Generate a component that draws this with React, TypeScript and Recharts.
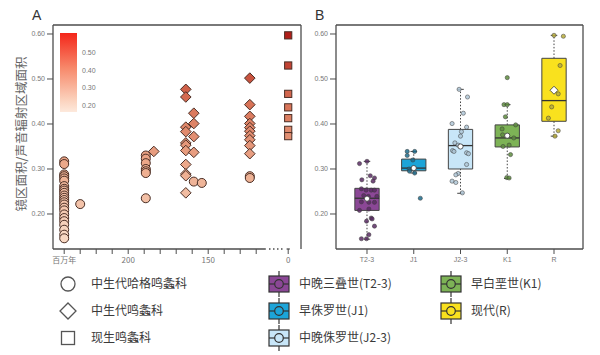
import { ScatterChart, Scatter, XAxis, YAxis, ReferenceLine, ReferenceArea } from 'recharts';

// shared y scale (ratio)
const Y_TICKS = [0.2, 0.3, 0.4, 0.5, 0.6];
const Y_DOMAIN: [number, number] = [0.1222, 0.62];

// panel A: age (Ma) vs ratio; recent taxa sit at 0 Ma behind the axis break
const AGE_TICKS = [240, 230, 220, 210, 200, 190, 180, 170, 160, 150, 140, 130, 120, 0];
const AGE_LABELS: Record<number, string> = { 240: '百万年', 200: '200', 150: '150', 0: '0' };
const BREAK_POS = 100; // where "0" is drawn on the broken axis

const CIRCLES: [number, number][] = [
  [240, 0.317], [240, 0.311], [240, 0.288], [240, 0.284], [240, 0.279], [240, 0.274],
  [240, 0.262], [240, 0.256], [240, 0.252], [240, 0.247], [240, 0.241], [240, 0.236],
  [240, 0.231], [240, 0.226], [240, 0.221], [240, 0.214], [240, 0.208], [240, 0.199],
  [240, 0.191], [240, 0.184], [240, 0.176], [240, 0.165], [240, 0.154], [240, 0.146],
  [230, 0.222],
  [189, 0.330], [189, 0.323], [189, 0.313], [189, 0.300], [189, 0.295], [189, 0.291], [189, 0.235],
  [159, 0.272], [154, 0.269],
  [124, 0.284], [124, 0.280],
];
const DIAMONDS: [number, number][] = [
  [184, 0.339],
  [164, 0.477], [164, 0.460], [164, 0.393], [164, 0.383], [164, 0.358], [164, 0.353],
  [164, 0.341], [164, 0.310], [164, 0.289], [164, 0.285], [164, 0.247],
  [159, 0.424], [159, 0.401], [159, 0.372], [159, 0.337],
  [124, 0.502], [124, 0.443], [124, 0.417], [124, 0.401], [124, 0.392], [124, 0.384],
  [124, 0.374], [124, 0.365], [124, 0.352], [124, 0.334],
];
const SQUARES: [number, number][] = [
  [0, 0.597], [0, 0.530], [0, 0.467], [0, 0.437], [0, 0.413], [0, 0.387], [0, 0.373],
];
const HEAT_TICKS = ['0.50', '0.40', '0.30', '0.20'];

// panel B: groups
const GROUPS = ['T2-3', 'J1', 'J2-3', 'K1', 'R'];
const GROUP_NAMES = ['中晚三叠世(T2-3)', '早侏罗世(J1)', '中晚侏罗世(J2-3)', '早白垩世(K1)', '现代(R)'];
const BOX_COLORS = ['#8b4796', '#1ca4d8', '#c8e6f8', '#7db356', '#f9e11e'];
const DOT_COLORS = ['#5a2b64', '#1f6c8c', '#aec6d6', '#5e8c3e', '#b7ab3a'];
const LOW = [0.144, 0.291, 0.246, 0.279, 0.373];
const Q1 = [0.208, 0.296, 0.300, 0.349, 0.406];
const MEDIAN = [0.235, 0.302, 0.352, 0.369, 0.452];
const Q3 = [0.257, 0.322, 0.388, 0.398, 0.546];
const HIGH = [0.317, 0.339, 0.477, 0.443, 0.597];
const MEAN = [0.234, 0.302, 0.350, 0.374, 0.475];

// [jitter, ratio]
const T23_DOTS: [number, number][] = [
  [-0.16, 0.312], [0.0, 0.317], [-0.11, 0.276], [0.07, 0.285], [0.16, 0.28], [0.13, 0.273],
  [-0.12, 0.256], [-0.02, 0.253], [0.09, 0.253], [0.16, 0.253], [-0.07, 0.241], [0.03, 0.239],
  [0.21, 0.239], [-0.12, 0.227], [0.04, 0.226], [0.16, 0.226], [-0.16, 0.208], [0.04, 0.211],
  [0.09, 0.191], [-0.01, 0.184], [0.11, 0.189], [0.16, 0.173], [0.04, 0.154], [-0.12, 0.145], [-0.01, 0.145],
];
const J1_DOTS: [number, number][] = [
  [-0.14, 0.339], [0.02, 0.339], [-0.14, 0.33], [-0.02, 0.32], [-0.1, 0.3], [-0.09, 0.295], [0.02, 0.291], [0.14, 0.235],
];
const J23_DOTS: [number, number][] = [
  [-0.03, 0.477], [0.15, 0.46], [0.06, 0.424], [-0.18, 0.401], [0.13, 0.393], [0.02, 0.383],
  [0.0, 0.373], [-0.12, 0.358], [-0.05, 0.353], [-0.17, 0.341], [-0.14, 0.339], [0.13, 0.336],
  [0.17, 0.334], [0.13, 0.31], [-0.05, 0.29], [-0.1, 0.287], [-0.18, 0.273], [-0.1, 0.27], [0.04, 0.247],
];
const K1_DOTS: [number, number][] = [
  [0.0, 0.503], [-0.07, 0.443], [0.0, 0.443], [-0.04, 0.416], [0.18, 0.398], [-0.11, 0.389],
  [-0.1, 0.376], [0.14, 0.369], [0.04, 0.353], [-0.09, 0.35], [0.07, 0.332], [-0.01, 0.281], [0.04, 0.28],
];
const R_DOTS: [number, number][] = [
  [0.0, 0.597], [0.2, 0.595], [0.13, 0.53], [0.09, 0.467], [-0.05, 0.438], [-0.12, 0.413], [0.09, 0.385], [0.02, 0.373],
];
const GROUP_DOTS = [T23_DOTS, J1_DOTS, J23_DOTS, K1_DOTS, R_DOTS];

const FRAME = '#4d4d4d';
const TICK_FONT = 'Liberation Sans, Arial, sans-serif';
const CJK_FONT = '"Noto Sans CJK SC", sans-serif';

const HEAT_STOPS: [number, number[]][] = [
  [0.15, [248, 216, 195]],
  [0.3, [237, 172, 142]],
  [0.45, [215, 112, 84]],
  [0.6, [176, 28, 24]],
];
function heat(v: number) {
  let i = 0;
  while (i < HEAT_STOPS.length - 2 && v > HEAT_STOPS[i + 1][0]) i++;
  const [a, ca] = HEAT_STOPS[i];
  const [b, cb] = HEAT_STOPS[i + 1];
  const t = Math.max(0, Math.min(1, (v - a) / (b - a)));
  const c = ca.map((x, k) => Math.round(x + (cb[k] - x) * t));
  return `rgb(${c[0]},${c[1]},${c[2]})`;
}

const axisAge = (a: number) => (a === 0 ? BREAK_POS : a);
const toPoints = (rows: [number, number][]) => rows.map(([a, v]) => ({ x: axisAge(a), y: v }));

const circleShape = (p: any) => (
  <circle cx={p.cx} cy={p.cy} r={4.5} fill={heat(p.payload.y)} stroke="#4a2e25" strokeWidth={1} />
);
const diamondShape = (p: any) => {
  const r = 5.3;
  return (
    <polygon
      points={`${p.cx},${p.cy - r} ${p.cx + r},${p.cy} ${p.cx},${p.cy + r} ${p.cx - r},${p.cy}`}
      fill={heat(p.payload.y)}
      stroke="#4a2e25"
      strokeWidth={1}
    />
  );
};
const squareShape = (p: any) => (
  <rect x={p.cx - 3.6} y={p.cy - 3.6} width={7.2} height={7.2} fill={heat(p.payload.y)} stroke="#4a2e25" strokeWidth={1} />
);

function PanelA() {
  const tickStyle = { fontSize: 7, fill: '#777', fontFamily: TICK_FONT };
  return (
    <ScatterChart width={310} height={270} margin={{ top: 25, right: 9, bottom: 1, left: 13 }}>
      <XAxis
        type="number"
        dataKey="x"
        domain={[92, 247]}
        reversed
        allowDataOverflow
        ticks={AGE_TICKS.map(axisAge)}
        interval={0}
        tickFormatter={(v: number) => AGE_LABELS[v === BREAK_POS ? 0 : v] ?? ''}
        axisLine={false}
        tickLine={{ stroke: FRAME }}
        tickSize={5}
        tickMargin={3}
        height={20}
        tick={{ fontSize: 8, fill: '#777', fontFamily: CJK_FONT }}
      />
      <YAxis
        type="number"
        dataKey="y"
        domain={Y_DOMAIN}
        allowDataOverflow
        ticks={Y_TICKS}
        interval={0}
        tickFormatter={(v: number) => v.toFixed(2)}
        width={40}
        axisLine={{ stroke: FRAME, strokeWidth: 1.3 }}
        tickLine={{ stroke: FRAME }}
        tickSize={6}
        tick={tickStyle}
      />
      <ReferenceLine y={Y_DOMAIN[1]} stroke={FRAME} strokeWidth={1.3} ifOverflow="visible" />
      <ReferenceLine x={92} stroke={FRAME} strokeWidth={1.3} ifOverflow="visible" />
      <ReferenceLine
        segment={[{ x: 247, y: Y_DOMAIN[0] }, { x: 114, y: Y_DOMAIN[0] }]}
        stroke={FRAME}
        strokeWidth={1.3}
        ifOverflow="visible"
      />
      <ReferenceLine
        segment={[{ x: 112, y: Y_DOMAIN[0] }, { x: 102, y: Y_DOMAIN[0] }]}
        stroke={FRAME}
        strokeWidth={1.3}
        strokeDasharray="1.5 2.5"
        ifOverflow="visible"
      />
      <ReferenceLine
        segment={[{ x: 101, y: Y_DOMAIN[0] }, { x: 99, y: Y_DOMAIN[0] }]}
        stroke={FRAME}
        strokeWidth={1.3}
        ifOverflow="visible"
      />
      <Scatter data={toPoints(CIRCLES)} shape={circleShape} isAnimationActive={false} />
      <Scatter data={toPoints(DIAMONDS)} shape={diamondShape} isAnimationActive={false} />
      <Scatter data={toPoints(SQUARES)} shape={squareShape} isAnimationActive={false} />
    </ScatterChart>
  );
}

const BOX_HALF = 0.26;
const CAP_HALF = 0.07;

function PanelB() {
  const tickStyle = { fontSize: 7, fill: '#777', fontFamily: TICK_FONT };
  const meanData = MEAN.map((m, i) => ({ x: i + 1, y: m, diamond: i === 4 }));
  return (
    <ScatterChart width={300} height={270} margin={{ top: 25, right: 17, bottom: 1, left: 6 }}>
      <XAxis
        type="number"
        dataKey="x"
        domain={[0.337, 5.62]}
        allowDataOverflow
        ticks={[1, 2, 3, 4, 5]}
        interval={0}
        tickFormatter={(v: number) => GROUPS[v - 1] ?? ''}
        axisLine={{ stroke: FRAME, strokeWidth: 1.3 }}
        tickLine={{ stroke: FRAME }}
        tickSize={5}
        tickMargin={3}
        height={20}
        tick={tickStyle}
      />
      <YAxis
        type="number"
        dataKey="y"
        domain={Y_DOMAIN}
        allowDataOverflow
        ticks={Y_TICKS}
        interval={0}
        tickFormatter={(v: number) => v.toFixed(2)}
        width={30}
        axisLine={{ stroke: FRAME, strokeWidth: 1.3 }}
        tickLine={{ stroke: FRAME }}
        tickSize={6}
        tick={tickStyle}
      />
      <ReferenceLine y={Y_DOMAIN[1]} stroke={FRAME} strokeWidth={1.3} ifOverflow="visible" />
      <ReferenceLine x={5.62} stroke={FRAME} strokeWidth={1.3} ifOverflow="visible" />
      {GROUPS.map((g, i) => {
        const c = i + 1;
        return [
          <ReferenceLine key={g + 'wl'} segment={[{ x: c, y: LOW[i] }, { x: c, y: Q1[i] }]} stroke="#444" strokeDasharray="1.5 1.8" ifOverflow="visible" />,
          <ReferenceLine key={g + 'wh'} segment={[{ x: c, y: Q3[i] }, { x: c, y: HIGH[i] }]} stroke="#444" strokeDasharray="1.5 1.8" ifOverflow="visible" />,
          <ReferenceLine key={g + 'cl'} segment={[{ x: c - CAP_HALF, y: LOW[i] }, { x: c + CAP_HALF, y: LOW[i] }]} stroke="#444" ifOverflow="visible" />,
          <ReferenceLine key={g + 'ch'} segment={[{ x: c - CAP_HALF, y: HIGH[i] }, { x: c + CAP_HALF, y: HIGH[i] }]} stroke="#444" ifOverflow="visible" />,
          <ReferenceArea key={g + 'box'} x1={c - BOX_HALF} x2={c + BOX_HALF} y1={Q1[i]} y2={Q3[i]} fill={BOX_COLORS[i]} fillOpacity={1} stroke="#444" strokeWidth={1} ifOverflow="visible" />,
          <ReferenceLine key={g + 'med'} segment={[{ x: c - BOX_HALF, y: MEDIAN[i] }, { x: c + BOX_HALF, y: MEDIAN[i] }]} stroke="#333" strokeWidth={1.3} ifOverflow="visible" />,
        ];
      })}
      {GROUP_DOTS.map((dots, i) => (
        <Scatter
          key={GROUPS[i]}
          data={dots.map(([j, v]) => ({ x: i + 1 + j, y: v }))}
          shape={(p: any) => (
            <circle cx={p.cx} cy={p.cy} r={2.1} fill={DOT_COLORS[i]} fillOpacity={0.85} stroke="#3a3a3a" strokeWidth={0.5} />
          )}
          isAnimationActive={false}
        />
      ))}
      <Scatter
        data={meanData}
        shape={(p: any) =>
          p.payload.diamond ? (
            <polygon
              points={`${p.cx},${p.cy - 4} ${p.cx + 4},${p.cy} ${p.cx},${p.cy + 4} ${p.cx - 4},${p.cy}`}
              fill="#fff"
              stroke="#333"
              strokeWidth={0.8}
            />
          ) : (
            <circle cx={p.cx} cy={p.cy} r={2.6} fill="#fff" stroke="#333" strokeWidth={0.8} />
          )
        }
        isAnimationActive={false}
      />
    </ScatterChart>
  );
}

function ShapeIcon({ kind }: { kind: 'circle' | 'diamond' | 'square' }) {
  return (
    <svg width={20} height={20} style={{ display: 'block' }}>
      {kind === 'circle' && <circle cx={10} cy={10} r={7} fill="#fff" stroke="#555" strokeWidth={1.3} />}
      {kind === 'diamond' && <polygon points="10,2 18,10 10,18 2,10" fill="#fff" stroke="#555" strokeWidth={1.3} />}
      {kind === 'square' && <rect x={3.5} y={3.5} width={13} height={13} fill="#fff" stroke="#555" strokeWidth={1.3} />}
    </svg>
  );
}

function BoxIcon({ color }: { color: string }) {
  return (
    <svg width={24} height={26} style={{ display: 'block' }}>
      <line x1={12} y1={0} x2={12} y2={26} stroke="#333" strokeWidth={1.2} />
      <rect x={2} y={5} width={20} height={16} fill={color} stroke="#333" strokeWidth={1.2} />
      <line x1={2} y1={13} x2={22} y2={13} stroke="#333" strokeWidth={1.2} />
      <circle cx={12} cy={13} r={4.3} fill={color} stroke="#333" strokeWidth={1.2} />
    </svg>
  );
}

const SHAPE_LEGEND: { kind: 'circle' | 'diamond' | 'square'; label: string }[] = [
  { kind: 'circle', label: '中生代哈格鸣螽科' },
  { kind: 'diamond', label: '中生代鸣螽科' },
  { kind: 'square', label: '现生鸣螽科' },
];
const LEGEND_ROWS = [284, 311, 338];

export default function App() {
  const legendText: React.CSSProperties = {
    position: 'absolute',
    fontFamily: CJK_FONT,
    fontSize: 12,
    color: '#3a3a3a',
    whiteSpace: 'nowrap',
    lineHeight: '14px',
  };
  const groupLegendPos = [
    [279, LEGEND_ROWS[0]],
    [279, LEGEND_ROWS[1]],
    [279, LEGEND_ROWS[2]],
    [451, LEGEND_ROWS[0]],
    [451, LEGEND_ROWS[1]],
  ];
  return (
    <div style={{ position: 'absolute', left: 0, top: 0, width: 600, height: 355, background: '#fff', overflow: 'hidden' }}>
      <div style={{ position: 'absolute', left: 0, top: 0 }}>
        <PanelA />
      </div>
      <div style={{ position: 'absolute', left: 300, top: 0 }}>
        <PanelB />
      </div>
      <div style={{ position: 'absolute', left: 32, top: 7, fontFamily: TICK_FONT, fontSize: 14, color: '#333' }}>A</div>
      <div style={{ position: 'absolute', left: 315, top: 7, fontFamily: TICK_FONT, fontSize: 14, color: '#333' }}>B</div>
      <div
        style={{
          position: 'absolute',
          left: 20,
          top: 134,
          transform: 'translate(-50%, -50%) rotate(-90deg)',
          fontFamily: CJK_FONT,
          fontSize: 12.5,
          color: '#666',
          whiteSpace: 'nowrap',
        }}
      >
        镜区面积/声音辐射区域面积
      </div>
      {/* heat scale */}
      <div
        style={{
          position: 'absolute',
          left: 60,
          top: 33,
          width: 17,
          height: 79,
          background: 'linear-gradient(to bottom, #f4261a, #f78a6c 45%, #fbd2bd 85%, #fde9dc)',
        }}
      />
      {HEAT_TICKS.map((t, i) => (
        <div
          key={t}
          style={{ position: 'absolute', left: 82, top: 49 + i * 17.7, fontFamily: TICK_FONT, fontSize: 7, color: '#777' }}
        >
          {t}
        </div>
      ))}
      {SHAPE_LEGEND.map((s, i) => (
        <div key={s.label}>
          <div style={{ position: 'absolute', left: 58, top: LEGEND_ROWS[i] - 10 }}>
            <ShapeIcon kind={s.kind} />
          </div>
          <div style={{ ...legendText, left: 91, top: LEGEND_ROWS[i] - 8 }}>{s.label}</div>
        </div>
      ))}
      {GROUP_NAMES.map((n, i) => (
        <div key={n}>
          <div style={{ position: 'absolute', left: groupLegendPos[i][0] - 12, top: groupLegendPos[i][1] - 13 }}>
            <BoxIcon color={BOX_COLORS[i]} />
          </div>
          <div style={{ ...legendText, left: groupLegendPos[i][0] + 20, top: groupLegendPos[i][1] - 8 }}>{n}</div>
        </div>
      ))}
    </div>
  );
}
